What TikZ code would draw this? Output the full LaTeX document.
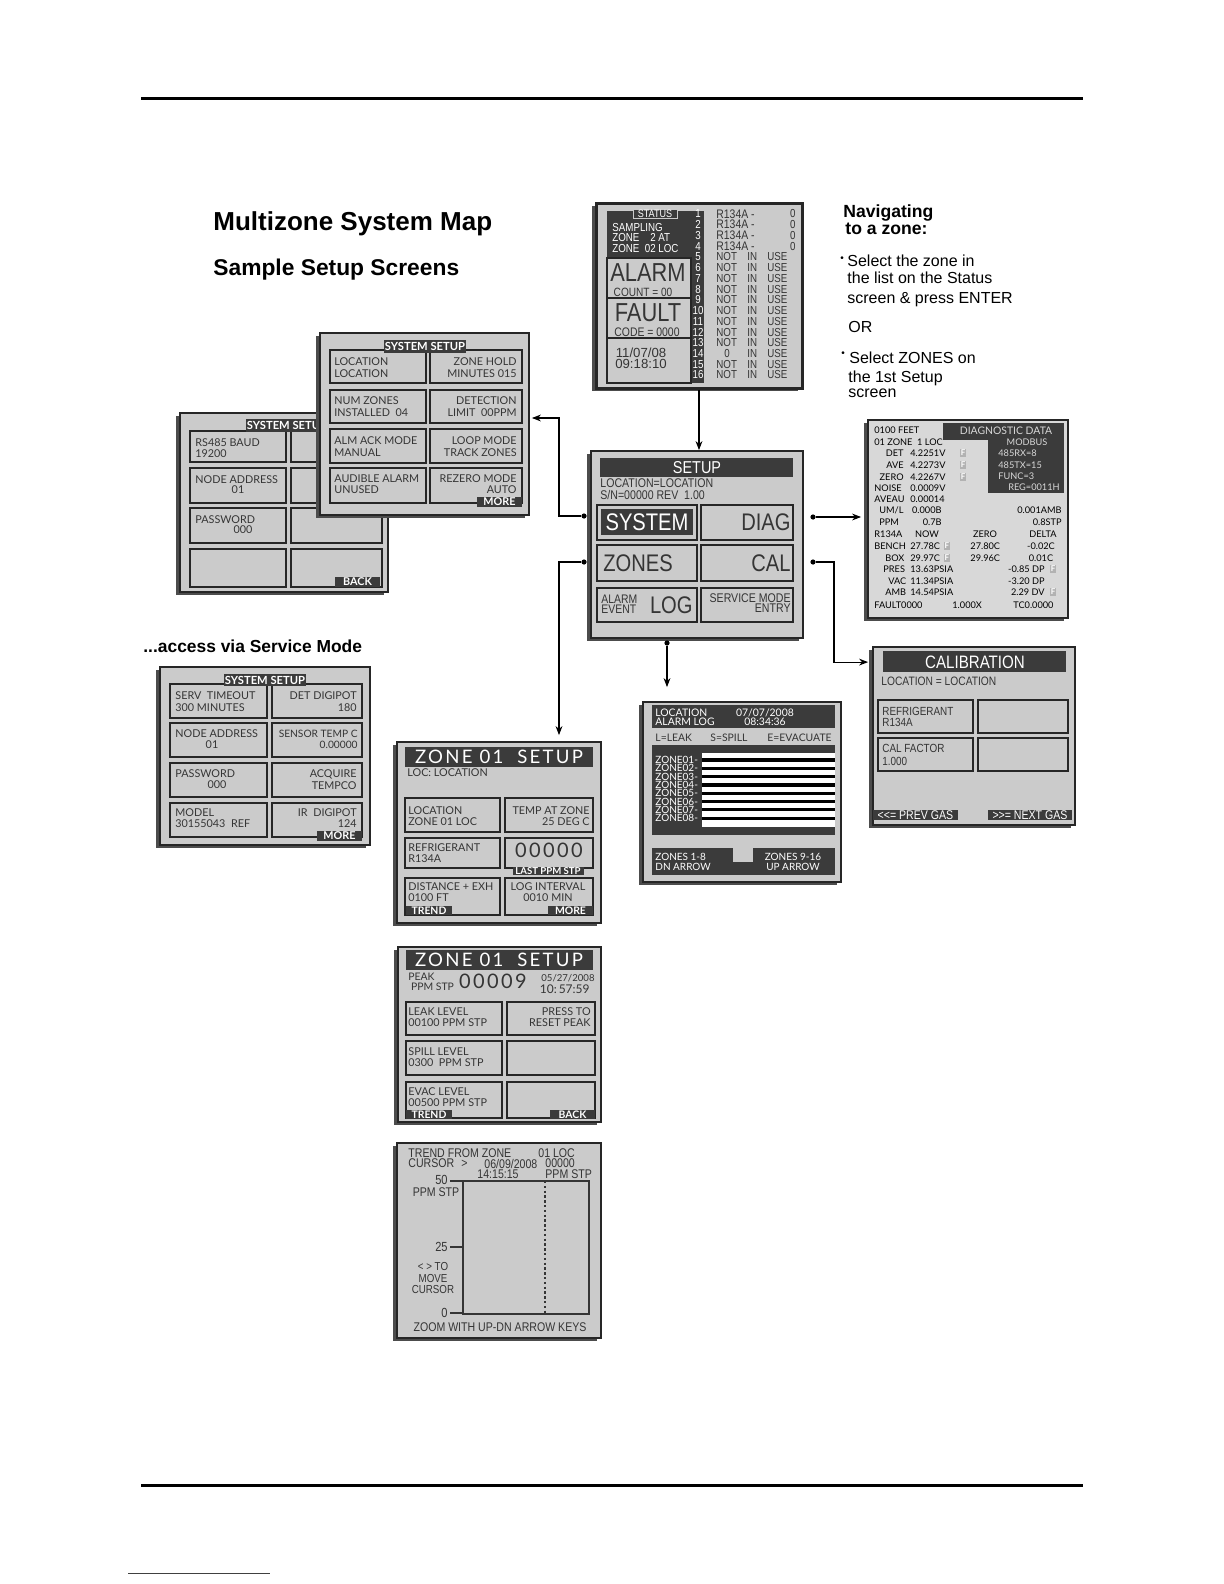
\documentclass[tikz,border=0pt]{standalone}
\usepackage{fontspec}
\setmainfont{Liberation Sans}
\newfontfamily\lcdfont[FakeStretch=0.84]{Liberation Sans}
\newfontfamily\gillfont{Lato}
\newfontfamily\gillwide[LetterSpace=12]{Lato}
\usepackage{xcolor}
\usepackage{tikz}
\usetikzlibrary{positioning}
\usetikzlibrary{calc}
\usetikzlibrary{fit}
\usetikzlibrary{shadows}
\usetikzlibrary{arrows.meta}

\definecolor{lcdgray}{HTML}{CBCBCB}
\definecolor{lcddark}{HTML}{3B3B3B}
\definecolor{lcdedge}{HTML}{262626}
\definecolor{lcdtext}{HTML}{353535}
\definecolor{lcdlight}{HTML}{D8D8D8}

\newcommand{\fs}[2]{\fontsize{#1}{#2}\selectfont}

\begin{document}
\begin{tikzpicture}[x=0.5pt,y=-0.5pt,
  screen/.style={fill=lcdgray,draw=lcdedge,line width=0.9pt,inner sep=0pt,
    drop shadow={shadow xshift=-2.2pt,shadow yshift=-1.6pt,fill=black!70,opacity=1}},
  btn/.style={draw=lcdedge,line width=0.75pt},
  darkbar/.style={fill=lcddark},
  scrtag/.style={fill=lcddark,text=white,inner sep=0.4pt,font=\gillfont\bfseries\fs{4.6}{5}},
  lbl/.style={inner sep=0pt,text=lcdtext,align=left,font=\gillfont\fs{5.4}{5.8}},
  lbr/.style={lbl,align=right},
  glw/.style={lbl,text=white},
  lcdl/.style={inner sep=0pt,text=lcdtext,font=\lcdfont\fs{5.8}{5.4}},
  lcdw/.style={lcdl,text=white},
  dg/.style={inner sep=0pt,text=black,font=\gillfont\fs{4.6}{5}},
  dgw/.style={dg,text=lcdlight},
  flagbox/.style={fill=black!30,text=white,inner sep=0.5pt,font=\gillfont\bfseries\fs{4}{4}},
  dotmark/.style={circle,fill=black,inner sep=0pt,minimum size=2.6pt},
  link/.style={draw=black,line width=0.55pt,-{Stealth[length=4.5pt,width=3.4pt]}},
  navtext/.style={inner sep=0pt,anchor=base west,font=\fs{8}{9}},
  trendtext/.style={lcdl,font=\lcdfont\fs{6.3}{6.3}}
]
\fill[white] (0,0) rectangle (1224,1584);
\useasboundingbox (0,0) rectangle (1224,1584);

% page rules
\draw[line width=1.5pt] (141,99) -- (1083,99);
\draw[line width=1.5pt] (141,1485) -- (1083,1485);
\draw[line width=0.5pt,black!75] (128,1573) -- (270,1573);

\node[anchor=base west,inner sep=0pt,font=\bfseries\fs{13}{15}] (maptitle) at (213,230) {Multizone System Map};
\node[anchor=base west,inner sep=0pt,font=\bfseries\fs{11.4}{13}] (subtitle) at (213,275) {Sample Setup Screens};
\node[anchor=base west,inner sep=0pt,font=\bfseries\fs{8.7}{10}] (servnote) at (143,652) {...access via Service Mode};

\node[navtext,font=\bfseries\fs{8.8}{10}] (navhead) at (843,217) {Navigating};
\node[navtext,font=\bfseries\fs{8.8}{10}] (navhead2) at (845,234) {to a zone:};
\node[inner sep=0pt,font=\fs{5}{5}] (bul1) at (842,259) {\textbullet};
\node[navtext] (nav1) at (847,266) {Select the zone in};
\node[navtext] (nav2) at (847,283) {the list on the Status};
\node[navtext] (nav3) at (847,303) {screen \& press ENTER};
\node[navtext] (nav4) at (848,332) {OR};
\node[inner sep=0pt,font=\fs{5}{5}] (bul2) at (843,354) {\textbullet};
\node[navtext] (nav5) at (849,363) {Select ZONES on};
\node[navtext] (nav6) at (848,382) {the 1st Setup};
\node[navtext] (nav7) at (848,397) {screen};

% status
\node[screen,line width=1.5pt,fit={(596,203) (802,388)}] (status) {};
\fill[darkbar] (607,211) rectangle (704,258);
\fill[darkbar] (691,258) rectangle (704,383);
\draw[btn] (607,258) rectangle (691,298);
\draw[btn] (607,298) rectangle (691,338);
\draw[btn] (607,338) rectangle (691,383);
\node[scrtag,draw=lcdgray,line width=0.4pt,font=\lcdfont\fs{5.4}{5.4},minimum width=22pt] (stathead) at (655,214) {STATUS};
\node[lcdw,anchor=west,align=left,font=\lcdfont\fs{5.8}{5.2}] (statzone) at (612,238) {SAMPLING\\ZONE\ \ \ \ 2 AT\\ZONE\ \ 02 LOC};
\node[lcdl,font=\lcdfont\fs{13}{13}] (alarmbig) at (648,272.5) {ALARM};
\node[lcdl,font=\lcdfont\fs{6}{6}] (alarmcnt) at (643,292) {COUNT = 00};
\node[lcdl,font=\lcdfont\fs{13}{13}] (faultbig) at (648,312.5) {FAULT};
\node[lcdl,font=\lcdfont\fs{6.2}{6.2}] (faultcode) at (647,332) {CODE = 0000};
\node[lcdl,align=center,font=\fs{6.6}{5.6}] (statclock) at (641,358) {11/07/08\\09:18:10};
\foreach \i in {1,...,16}{
  \pgfmathsetmacro{\yy}{214+(\i-1)*10.73}
  \node[lcdw] (num\i) at (698,\yy) {\i};
  \ifnum\i<5
    \node[lcdl,anchor=west,font=\lcdfont\fs{6.2}{6}] (gas\i) at (716,\yy) {R134A -};
    \node[lcdl,anchor=east] (ppm\i) at (796,\yy) {0};
  \else
    \ifnum\i=14
      \node[lcdl] (ppm\i) at (727,\yy) {0};
    \else
      \node[lcdl,anchor=west] (not\i) at (716,\yy) {NOT};
    \fi
    \node[lcdl,anchor=west] (in\i) at (747,\yy) {IN};
    \node[lcdl,anchor=west] (use\i) at (767,\yy) {USE};
  \fi
}

% setup
\node[screen,fit={(591,451) (803,638)}] (setup) {};
\fill[darkbar] (600,458) rectangle (793,477);
\node[lcdw,font=\lcdfont\fs{8.6}{8.6}] (setuphead) at (697,467.5) {SETUP};
\node[lcdl,anchor=west,align=left,font=\lcdfont\fs{6.3}{5.9}] (setuploc) at (600,489) {LOCATION=LOCATION\\S/N=00000 REV\ \ 1.00};
\draw[btn] (597,505) rectangle (697,540);
\fill[darkbar] (601,509) rectangle (693,535);
\node[lcdw,font=\lcdfont\fs{12}{12}] (btnsystem) at (647,522) {SYSTEM};
\draw[btn] (701,505) rectangle (793,540);
\node[lcdl,anchor=east,font=\lcdfont\fs{12}{12}] (btndiag) at (791,522) {DIAG};
\draw[btn] (597,545) rectangle (697,581);
\node[lcdl,anchor=west,font=\lcdfont\fs{12}{12}] (btnzones) at (603,563) {ZONES};
\draw[btn] (701,545) rectangle (793,581);
\node[lcdl,anchor=east,font=\lcdfont\fs{12}{12}] (btncal) at (791,563) {CAL};
\draw[btn] (597,588) rectangle (697,622);
\node[lcdl,anchor=west,align=left,font=\lcdfont\fs{6.2}{5.2}] (btnalarm) at (601,604) {ALARM\\EVENT};
\node[lcdl,anchor=east,font=\lcdfont\fs{12}{12}] (btnlog) at (693,605) {LOG};
\draw[btn] (701,588) rectangle (793,622);
\node[lcdl,anchor=east,align=right,font=\lcdfont\fs{6.3}{5.4}] (btnservice) at (791,603) {SERVICE MODE\\ENTRY};

% diagnostics
\node[screen,fill=lcdlight,fit={(868,420) (1068,618)}] (diag) {};
\fill[darkbar] (943,423) rectangle (1064,440);
\fill[darkbar] (988,440) rectangle (1064,493);
\node[dgw,font=\gillfont\fs{5.2}{5.2}] (diaghead) at (1006,431) {DIAGNOSTIC DATA};
\node[dg,anchor=west] (dfeet) at (874,430) {0100 FEET};
\node[dg,anchor=west] (dzone) at (874,442) {01 ZONE\ \ 1 LOC};
\node[dgw] (dmod) at (1027,442) {MODBUS};
\node[dgw,anchor=west] (drx) at (998,453) {485RX=8};
\node[dgw,anchor=west] (dtx) at (998,465) {485TX=15};
\node[dgw,anchor=west] (dfunc) at (998,476) {FUNC=3};
\node[dgw,anchor=east] (dreg) at (1060,487) {REG=0011H};
\node[dg,anchor=east] (ddet) at (904,453) {DET};
\node[dg,anchor=west] (ddetv) at (910,453) {4.2251V};
\node[flagbox] (fdet) at (963,453) {F};
\node[dg,anchor=east] (dave) at (904,465) {AVE};
\node[dg,anchor=west] (davev) at (910,465) {4.2273V};
\node[flagbox] (fave) at (963,465) {F};
\node[dg,anchor=east] (dzero) at (904,477) {ZERO};
\node[dg,anchor=west] (dzerov) at (910,477) {4.2267V};
\node[flagbox] (fzero) at (963,477) {F};
\node[dg,anchor=west] (dnoise) at (874,488) {NOISE};
\node[dg,anchor=west] (dnoisev) at (910,488) {0.0009V};
\node[dg,anchor=west] (daveau) at (874,499) {AVEAU};
\node[dg,anchor=west] (daveauv) at (910,499) {0.00014};
\node[dg,anchor=west] (duml) at (879,510) {UM/L};
\node[dg,anchor=east] (dumlv) at (942,510) {0.000B};
\node[dg,anchor=east] (damb) at (1062,510) {0.001AMB};
\node[dg,anchor=west] (dppm) at (879,522) {PPM};
\node[dg,anchor=east] (dppmv) at (942,522) {0.7B};
\node[dg,anchor=east] (dstp) at (1062,522) {0.8STP};
\node[dg,anchor=west] (dgas) at (874,534) {R134A};
\node[dg] (dnow) at (927,534) {NOW};
\node[dg] (dzcol) at (985,534) {ZERO};
\node[dg] (ddelta) at (1043,534) {DELTA};
\node[dg,anchor=west] (dbench) at (874,546) {BENCH};
\node[dg,anchor=west] (dbenchv) at (910,546) {27.78C};
\node[flagbox] (fbench) at (947,546) {F};
\node[dg,anchor=west] (dbenchz) at (970,546) {27.80C};
\node[dg] (dbenchd) at (1041,546) {-0.02C};
\node[dg,anchor=west] (dbox) at (885,558) {BOX};
\node[dg,anchor=west] (dboxv) at (910,558) {29.97C};
\node[flagbox] (fbox) at (947,558) {F};
\node[dg,anchor=west] (dboxz) at (970,558) {29.96C};
\node[dg] (dboxd) at (1041,558) {0.01C};
\node[dg,anchor=west] (dpres) at (883,569) {PRES};
\node[dg,anchor=west] (dpresv) at (910,569) {13.63PSIA};
\node[dg,anchor=east] (dpresd) at (1045,569) {-0.85 DP};
\node[flagbox] (fpres) at (1053,569) {F};
\node[dg,anchor=west] (dvac) at (888,581) {VAC};
\node[dg,anchor=west] (dvacv) at (910,581) {11.34PSIA};
\node[dg,anchor=east] (dvacd) at (1045,581) {-3.20 DP};
\node[dg,anchor=west] (damb2) at (885,592) {AMB};
\node[dg,anchor=west] (dambv) at (910,592) {14.54PSIA};
\node[dg,anchor=east] (dambd) at (1045,592) {2.29 DV};
\node[flagbox] (famb) at (1053,592) {F};
\node[dg,anchor=west] (dfault) at (874,605) {FAULT0000};
\node[dg,anchor=west] (dmult) at (952,605) {1.000X};
\node[dg,anchor=west] (dtc) at (1013,605) {TC0.0000};

% calibration
\node[screen,fit={(873,647) (1075,825)}] (cal) {};
\fill[darkbar] (883,651) rectangle (1066,672);
\node[lcdw,font=\lcdfont\fs{9}{9}] (calhead) at (975,662) {CALIBRATION};
\node[lcdl,anchor=west,font=\lcdfont\fs{6.1}{6.1}] (calloc) at (881,681) {LOCATION = LOCATION};
\draw[btn] (878,700) rectangle (973,733);
\draw[btn] (978,700) rectangle (1068,733);
\draw[btn] (878,738) rectangle (973,771);
\draw[btn] (978,738) rectangle (1068,771);
\node[lcdl,anchor=west,align=left,font=\lcdfont\fs{5.9}{5.8}] (calgas) at (882,717) {REFRIGERANT\\R134A};
\node[lcdl,anchor=west,align=left,font=\lcdfont\fs{5.9}{6.6}] (calfac) at (882,755) {CAL FACTOR\\1.000};
\node[scrtag,font=\lcdfont\fs{6.3}{6.3},minimum width=42.5pt,minimum height=5pt] (prevgas) at (915.5,815) {<<= PREV GAS};
\node[scrtag,font=\lcdfont\fs{6.3}{6.3},minimum width=42pt,minimum height=5pt] (nextgas) at (1030,815) {>>= NEXT GAS};

% alarm log
\node[screen,fit={(643,702) (841,882)}] (alarmlog) {};
\fill[darkbar] (652,705) rectangle (835,728);
\node[glw,anchor=west,font=\gillfont\fs{5.2}{4.6}] (loghead) at (655,717) {LOCATION\\ALARM LOG};
\node[glw,align=center,font=\gillfont\fs{5.2}{4.6}] (logtime) at (765,717) {07/07/2008\\08:34:36};
\node[lbl,anchor=west,font=\gillfont\fs{5.2}{5.2}] (logleak) at (655,738) {L=LEAK};
\node[lbl,anchor=west,font=\gillfont\fs{5.2}{5.2}] (logspill) at (710,738) {S=SPILL};
\node[lbl,anchor=west,font=\gillfont\fs{5.2}{5.2}] (logevac) at (767,738) {E=EVACUATE};
\fill[darkbar] (652,745) rectangle (835,835);
\fill[white] (702,753) rectangle (835,827);
\foreach \i in {1,...,8}{
  \pgfmathsetmacro{\yy}{760+(\i-1)*8.3}
  \draw[line width=1.6pt] (702,\yy) -- (835,\yy);
  \node[glw,anchor=west,font=\gillfont\fs{5}{5}] (zl\i) at (655,\yy) {ZONE0\i-};
}
\fill[darkbar] (652,848) rectangle (835,875);
\fill[lcdgray] (733,848) rectangle (753,862);
\node[glw,anchor=west,font=\gillfont\fs{5}{5}] (logdn) at (655,862) {ZONES 1-8\\DN ARROW};
\node[glw,align=center,font=\gillfont\fs{5}{5}] (logup) at (793,862) {ZONES 9-16\\UP ARROW};

% system setup, back page
\node[screen,fit={(180,413) (388,592)}] (sysback) {};
\draw[btn] (190,431) rectangle (286,462);
\draw[btn] (291,431) rectangle (382,462);
\draw[btn] (190,468) rectangle (286,503);
\draw[btn] (291,468) rectangle (382,503);
\draw[btn] (190,508) rectangle (286,543);
\draw[btn] (291,508) rectangle (382,543);
\draw[btn] (190,549) rectangle (286,587);
\draw[btn] (291,549) rectangle (382,587);
\node[scrtag,font=\gillfont\bfseries\fs{5.6}{5.6},minimum width=37pt,minimum height=6.3pt] (sbhead) at (287,425.5) {SYSTEM SETUP};
\node[lbl,anchor=west] (sbbaud) at (195,448) {RS485 BAUD\\19200};
\node[lbl,anchor=west] (sbnode) at (195,480) {NODE ADDRESS};
\node[lbl] (sbnodev) at (238,490) {01};
\node[lbl,anchor=west] (sbpass) at (195,520) {PASSWORD};
\node[lbl] (sbpassv) at (243,530) {000};
\node[scrtag,font=\gillfont\bfseries\fs{5.4}{5.4},minimum width=22.5pt,minimum height=5pt] (sbback) at (357.5,582) {BACK};

% system setup, first page
\node[screen,fit={(320,333) (529,515)}] (sysfront) {};
\draw[btn] (330,350) rectangle (426,383);
\draw[btn] (430,350) rectangle (522,383);
\draw[btn] (330,390) rectangle (426,423);
\draw[btn] (430,390) rectangle (522,423);
\draw[btn] (330,429) rectangle (426,463);
\draw[btn] (430,429) rectangle (522,463);
\draw[btn] (330,468) rectangle (426,503);
\draw[btn] (430,468) rectangle (522,503);
\node[scrtag,font=\gillfont\bfseries\fs{5.6}{5.6},minimum width=37pt,minimum height=6.3pt] (sfhead) at (425,346.5) {SYSTEM SETUP};
\node[lbl,anchor=west] (sfloc) at (334,367.5) {LOCATION\\LOCATION};
\node[lbr,anchor=east] (sfhold) at (517,367.5) {ZONE HOLD\\MINUTES\ 015};
\node[lbl,anchor=west] (sfnum) at (334,406.5) {NUM ZONES\\INSTALLED\ \ 04};
\node[lbr,anchor=east] (sfdet) at (517,406.5) {DETECTION\\LIMIT\ \ 00PPM};
\node[lbl,anchor=west] (sfack) at (334,446.5) {ALM\ ACK\ MODE\\MANUAL};
\node[lbr,anchor=east] (sfloop) at (517,446.5) {LOOP MODE\\TRACK ZONES};
\node[lbl,anchor=west] (sfaud) at (334,484) {AUDIBLE ALARM\\UNUSED};
\node[lbr,anchor=east] (sfrez) at (517,484) {REZERO MODE\\AUTO};
\node[scrtag,font=\gillfont\bfseries\fs{5.4}{5.4},minimum width=22.5pt,minimum height=5pt] (sfmore) at (499.5,502) {MORE};

% system setup, service mode
\node[screen,fit={(160,667) (370,845)}] (sysserv) {};
\draw[btn] (170,684) rectangle (267,718);
\draw[btn] (272,684) rectangle (362,718);
\draw[btn] (170,723) rectangle (267,757);
\draw[btn] (272,723) rectangle (362,757);
\draw[btn] (170,763) rectangle (267,797);
\draw[btn] (272,763) rectangle (362,797);
\draw[btn] (170,803) rectangle (267,837);
\draw[btn] (272,803) rectangle (362,837);
\node[scrtag,font=\gillfont\bfseries\fs{5.6}{5.6},minimum width=37pt,minimum height=6.3pt] (sshead) at (265,680) {SYSTEM SETUP};
\node[lbl,anchor=west] (sstime) at (175,701.5) {SERV\ \ TIMEOUT\\300 MINUTES};
\node[lbr,anchor=east] (ssdet) at (357,701.5) {DET DIGIPOT\\180};
\node[lbl,anchor=west] (ssnode) at (175,734) {NODE ADDRESS};
\node[lbl] (ssnodev) at (212,745) {01};
\node[lbr,anchor=east,font=\gillfont\fs{5.1}{5.8}] (sstemp) at (358,739.5) {SENSOR\ TEMP\ C\\0.00000};
\node[lbl,anchor=west] (sspass) at (175,774) {PASSWORD};
\node[lbl] (sspassv) at (217,785) {000};
\node[lbr,anchor=east] (ssacq) at (357,779.5) {ACQUIRE\\TEMPCO};
\node[lbl,anchor=west] (ssmodel) at (175,818) {MODEL\\30155043\ \ REF};
\node[lbr,anchor=east] (ssir) at (357,818) {IR\ \ DIGIPOT\\124};
\node[scrtag,font=\gillfont\bfseries\fs{5.4}{5.4},minimum width=22.5pt,minimum height=4.5pt] (ssmore) at (339.5,836) {MORE};

% zone setup, first page
\node[screen,fit={(397,742) (601,923)}] (zone1) {};
\fill[darkbar] (405,747) rectangle (593,767);
\node[glw,font=\gillwide\fs{9.3}{9.3}] (z1head) at (499,757) {ZONE 01\ \ SETUP};
\node[lbl,anchor=west] (z1loc) at (407,773) {LOC: LOCATION};
\draw[btn] (405,798) rectangle (500,832);
\draw[btn] (505,798) rectangle (593,832);
\draw[btn] (405,838) rectangle (500,868);
\draw[btn] (505,838) rectangle (593,868);
\draw[btn] (405,878) rectangle (500,915);
\draw[btn] (505,878) rectangle (593,915);
\node[lbl,anchor=west] (z1name) at (408,816) {LOCATION\\ZONE\ 01\ LOC};
\node[lbr,anchor=east] (z1temp) at (590,816) {TEMP AT ZONE\\25 DEG C};
\node[lbl,anchor=west] (z1gas) at (408,853) {REFRIGERANT\\R134A};
\node[lbl,font=\gillwide\fs{10}{10}] (z1ppm) at (549,850) {00000};
\node[scrtag,font=\gillfont\bfseries\fs{4.8}{4.8},minimum width=35.5pt] (z1last) at (548,871) {LAST PPM STP};
\node[lbl,anchor=west] (z1dist) at (408,892) {DISTANCE + EXH\\0100 FT};
\node[lbl,align=center] (z1int) at (548,892) {LOG INTERVAL\\0010 MIN};
\node[scrtag,font=\gillfont\bfseries\fs{5.2}{5.2},minimum width=23pt,minimum height=4.5pt] (z1trend) at (429,910.5) {TREND};
\node[scrtag,font=\gillfont\bfseries\fs{5.2}{5.2},minimum width=22.5pt,minimum height=4.5pt] (z1more) at (570.5,910.5) {MORE};

% zone setup, second page
\node[screen,fit={(398,947) (601,1122)}] (zone2) {};
\fill[darkbar] (406,950) rectangle (593,970);
\node[glw,font=\gillwide\fs{9.3}{9.3}] (z2head) at (499,960) {ZONE 01\ \ SETUP};
\node[lbl,anchor=west,font=\gillfont\fs{5.2}{5}] (z2peak) at (408,982) {PEAK\\\ PPM STP};
\node[lbl,font=\gillwide\fs{10}{10}] (z2ppm) at (493,981) {00009};
\node[lbl,anchor=east,font=\gillfont\fs{4.8}{4.8}] (z2date) at (595,978) {05/27/2008};
\node[lbl,anchor=east,font=\gillfont\fs{6}{6}] (z2time) at (590,989) {10:\,57:59};
\draw[btn] (406,1002) rectangle (502,1035);
\draw[btn] (507,1002) rectangle (595,1035);
\draw[btn] (406,1041) rectangle (502,1075);
\draw[btn] (507,1041) rectangle (595,1075);
\draw[btn] (406,1082) rectangle (502,1118);
\draw[btn] (507,1082) rectangle (595,1118);
\node[lbl,anchor=west] (z2leak) at (408,1017) {LEAK LEVEL\\00100 PPM STP};
\node[lbr,anchor=east] (z2reset) at (591,1017) {PRESS TO\\RESET PEAK};
\node[lbl,anchor=west] (z2spill) at (408,1057) {SPILL LEVEL\\0300\ \ PPM STP};
\node[lbl,anchor=west] (z2evac) at (408,1097) {EVAC LEVEL\\00500 PPM STP};
\node[scrtag,font=\gillfont\bfseries\fs{5.2}{5.2},minimum width=23pt,minimum height=4.5pt] (z2trend) at (429,1114.5) {TREND};
\node[scrtag,font=\gillfont\bfseries\fs{5.2}{5.2},minimum width=22.5pt,minimum height=4.5pt] (z2back) at (572.5,1114.5) {BACK};

% trend
\node[screen,fit={(397,1143) (601,1338)}] (trend) {};
\node[trendtext,anchor=west] (trzone) at (408,1153) {TREND FROM ZONE};
\node[trendtext,anchor=west] (trloc) at (538,1153) {01 LOC};
\node[trendtext,anchor=west] (trcur) at (408,1163.5) {CURSOR};
\node[trendtext,anchor=west] (trgt) at (461,1163.5) {>};
\node[trendtext,anchor=west] (trdate) at (484,1163.5) {06/09/2008};
\node[trendtext,anchor=west] (trval) at (545,1163.5) {00000};
\node[trendtext,anchor=west] (trtime) at (477,1174) {14:15:15};
\node[trendtext,anchor=west] (trunit) at (545,1174) {PPM STP};
\draw[lcdtext,line width=0.7pt] (463,1181) rectangle (589,1314);
\draw[lcdtext,line width=0.7pt] (450,1181) -- (463,1181) (450,1247) -- (463,1247) (450,1313) -- (463,1313);
\draw[lcdtext,line width=0.7pt,dash pattern=on 1.2pt off 1.2pt] (545,1181) -- (545,1314);
\node[trendtext,anchor=east,font=\lcdfont\fs{6.6}{6.6}] (tr50) at (448,1180) {50};
\node[trendtext] (trppm) at (436,1192) {PPM STP};
\node[trendtext,anchor=east,font=\lcdfont\fs{6.6}{6.6}] (tr25) at (448,1247) {25};
\node[trendtext,align=center,font=\lcdfont\fs{5.8}{5.6}] (trmove) at (433,1278) {< > TO\\MOVE\\CURSOR};
\node[trendtext,anchor=east,font=\lcdfont\fs{6.6}{6.6}] (tr0) at (448,1313) {0};
\node[trendtext] (trzoom) at (500,1327) {ZOOM WITH UP-DN ARROW KEYS};

% connectors
\node[dotmark] (sysdot) at (584,516) {};
\node[dotmark] (zonesdot) at (584,562) {};
\node[dotmark] (diagdot) at (813,517) {};
\node[dotmark] (caldot) at (813,562) {};
\node[dotmark] (logdot) at (667,643) {};
\draw[link] (status.south) -- (status.south |- setup.north);
\draw[link] (sysdot) -- ++(-25,0) |- ($(sysfront.east)+(2,-6)$);
\draw[link,shorten >=3pt] (zonesdot) -- ++(-25,0) -- ($(zonesdot |- zone1.north)+(-25,0)$);
\draw[link,shorten >=3pt] (diagdot) -- (diagdot -| diag.west);
\draw[link,shorten >=2pt] (caldot) -- ++(21,0) |- ($(cal.north west)+(0,16)$);
\draw[link,shorten >=7pt] (logdot) -- (logdot |- alarmlog.north);
\end{tikzpicture}
\end{document}
